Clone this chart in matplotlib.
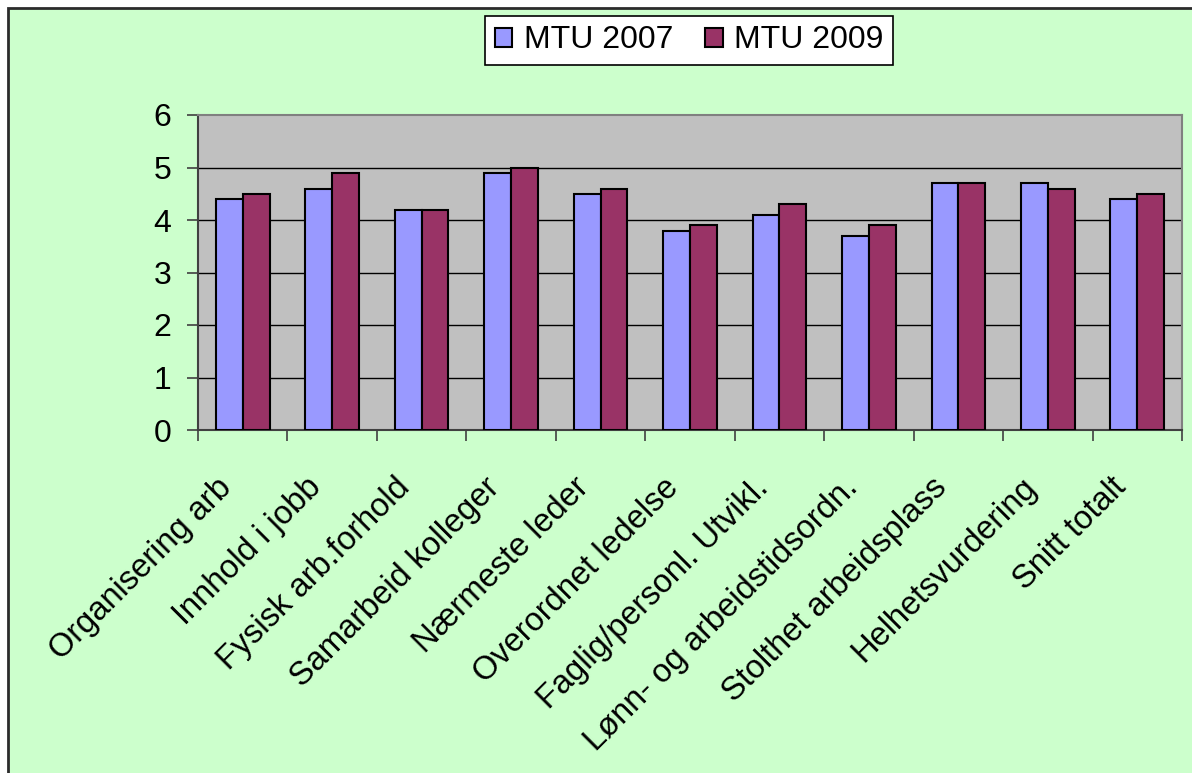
import matplotlib
matplotlib.use("Agg")
import matplotlib.pyplot as plt
import matplotlib.transforms as mtransforms
from matplotlib.patches import Rectangle
import numpy as np

categories = [
    "Organisering arb",
    "Innhold i jobb",
    "Fysisk arb.forhold",
    "Samarbeid kolleger",
    "Nærmeste leder",
    "Overordnet ledelse",
    "Faglig/personl. Utvikl.",
    "Lønn- og arbeidstidsordn.",
    "Stolthet arbeidsplass",
    "Helhetsvurdering",
    "Snitt totalt",
]
mtu_2007 = [4.4, 4.6, 4.2, 4.9, 4.5, 3.8, 4.1, 3.7, 4.7, 4.7, 4.4]
mtu_2009 = [4.5, 4.9, 4.2, 5.0, 4.6, 3.9, 4.3, 3.9, 4.7, 4.6, 4.5]
y_ticks = [0, 1, 2, 3, 4, 5, 6]

W, H = 1192, 773
plt.rcParams["font.family"] = ["Liberation Sans", "DejaVu Sans"]

fig = plt.figure(figsize=(W / 100, H / 100), dpi=100, facecolor="white")

# green chart area, only left and top border visible
bg = Rectangle((8 / W, -0.1), 1.2, (H - 8) / H + 0.1,
               transform=fig.transFigure, facecolor="#CCFFCC",
               edgecolor="#2b2b2b", linewidth=2, zorder=-10)
fig.add_artist(bg)

ax = fig.add_axes([198 / W, (H - 430) / H, (1182 - 198) / W, (430 - 115) / H])
ax.set_facecolor("#C0C0C0")

x = np.arange(len(categories))
w = 0.3
ax.bar(x - w / 2, mtu_2007, w, color="#9999FF", edgecolor="black",
       linewidth=1.5, label="MTU 2007", zorder=3)
ax.bar(x + w / 2, mtu_2009, w, color="#993366", edgecolor="black",
       linewidth=1.5, label="MTU 2009", zorder=3)

ax.set_xlim(-0.5, len(categories) - 0.5)
ax.set_ylim(0, 6)
ax.set_yticks(y_ticks)
for v in y_ticks[1:-1]:
    ax.axhline(v, color="black", linewidth=1, zorder=1)

for side in ["top", "right"]:
    ax.spines[side].set_color("#808080")
    ax.spines[side].set_linewidth(1.5)
for side in ["left", "bottom"]:
    ax.spines[side].set_color("#404040")
    ax.spines[side].set_linewidth(1.5)

ax.tick_params(axis="y", direction="out", length=8, width=1.2,
               labelsize=23, pad=11, color="#404040")
# x ticks sit on category boundaries
ax.set_xticks(np.arange(len(categories) + 1) - 0.5)
ax.set_xticklabels([])
ax.tick_params(axis="x", direction="out", length=8, width=1.2,
               color="#404040")

# category labels, rotated 45 degrees below the axis
lbl_trans = ax.get_xaxis_transform() + mtransforms.ScaledTranslation(
    -0.27, -0.42, fig.dpi_scale_trans)
for xi, name in zip(x, categories):
    ax.text(xi, 0, name, transform=lbl_trans, rotation=45,
            rotation_mode="anchor", ha="right", va="top", fontsize=23.5,
            clip_on=False)

leg = fig.legend(loc="center", bbox_to_anchor=((483 + 895) / 2 / W, 1 - 40.5 / H),
                 ncol=2, fontsize=23, frameon=True, fancybox=False,
                 edgecolor="black", facecolor="white", framealpha=1,
                 handlelength=0.55, handleheight=0.55, handletextpad=0.35,
                 columnspacing=1.0, borderpad=0.3, borderaxespad=0)
leg.get_frame().set_linewidth(1.2)

fig.savefig("out.png", dpi=100, facecolor="white")
